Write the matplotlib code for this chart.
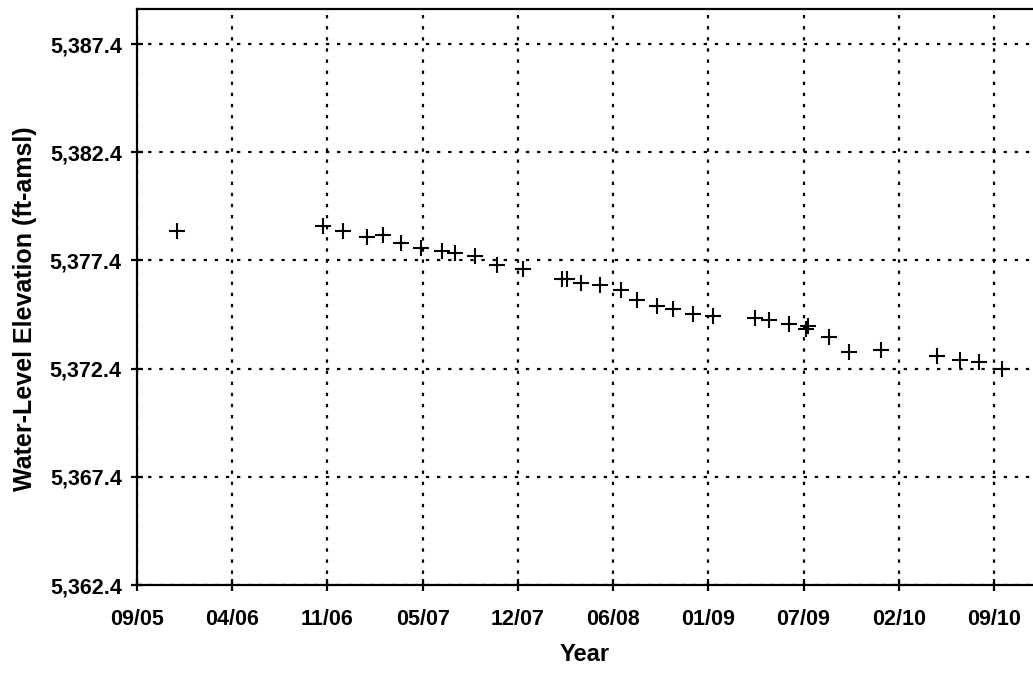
import matplotlib as mpl
mpl.use('Agg')
import matplotlib.pyplot as plt
import matplotlib.dates as mdates
import numpy as np
from datetime import datetime, timedelta

plt.rcParams['font.family'] = ['Liberation Sans', 'DejaVu Sans']
plt.rcParams['font.weight'] = 'bold'

# measurement dates and water levels (ft-amsl)
dates = ['2005-12-21', '2006-10-24', '2006-12-05', '2007-01-24', '2007-02-27',
         '2007-04-06', '2007-05-18', '2007-07-01', '2007-07-28', '2007-09-08',
         '2007-10-24', '2007-12-18', '2008-03-09', '2008-03-19', '2008-04-18',
         '2008-05-28', '2008-07-11', '2008-08-13', '2008-09-24', '2008-10-28',
         '2008-12-09', '2009-01-20', '2009-04-18', '2009-05-18', '2009-06-29',
         '2009-08-04', '2009-08-08', '2009-09-21', '2009-11-02', '2010-01-08',
         '2010-05-06', '2010-06-23', '2010-08-02', '2010-09-19']
levels = [5378.76, 5378.99, 5378.76, 5378.48, 5378.57,
          5378.20, 5377.97, 5377.83, 5377.74, 5377.60,
          5377.19, 5377.00, 5376.54, 5376.54, 5376.36,
          5376.26, 5376.03, 5375.57, 5375.29, 5375.15,
          5374.92, 5374.83, 5374.74, 5374.65, 5374.46,
          5374.23, 5374.37, 5373.86, 5373.17, 5373.26,
          5372.98, 5372.80, 5372.70, 5372.38]
yticks = [5362.4, 5367.4, 5372.4, 5377.4, 5382.4, 5387.4]

# axis: start date, 200-day major unit
x_start = datetime(2005, 9, 28)
major_days = 200
n_ticks = 10

x = [datetime.strptime(d, '%Y-%m-%d') for d in dates]

fig = plt.figure(figsize=(10.33, 6.77), dpi=100)
ax = fig.add_axes([137/1033, 1 - 585/677, 1 - 137/1033, (585 - 9)/677])

ax.plot(x, levels, linestyle='none', marker='+', color='black',
        markersize=11.5, markeredgewidth=1.5, zorder=3)

xticks = [x_start + timedelta(days=major_days*i) for i in range(n_ticks)]
ax.set_xticks(xticks)
ax.xaxis.set_major_formatter(mdates.DateFormatter('%m/%y'))
ax.set_xlim(x_start, x_start + timedelta(days=1882))

ax.set_yticks(yticks)
ax.set_yticklabels(['{:,.1f}'.format(v) for v in yticks])
ax.set_ylim(5362.4, 5389.02)

ax.grid(True, color='black', linestyle=(0, (1.5, 3.5)), linewidth=1.6)
ax.set_axisbelow(True)

for s in ['left', 'bottom', 'top']:
    ax.spines[s].set_linewidth(1.6)
ax.spines['right'].set_visible(False)

ax.tick_params(axis='both', direction='inout', length=8, width=1.6,
               labelsize=15.5, colors='black')
ax.tick_params(axis='x', pad=13)
ax.tick_params(axis='y', pad=7)

ax.set_xlabel('Year', fontsize=17, fontweight='bold')
ax.set_ylabel('Water-Level Elevation (ft-amsl)', fontsize=18,
              fontweight='bold')
ax.xaxis.set_label_coords(0.5, -0.1)
ax.yaxis.set_label_coords(-0.112, 0.48)

plt.savefig('out.png', dpi=100)
